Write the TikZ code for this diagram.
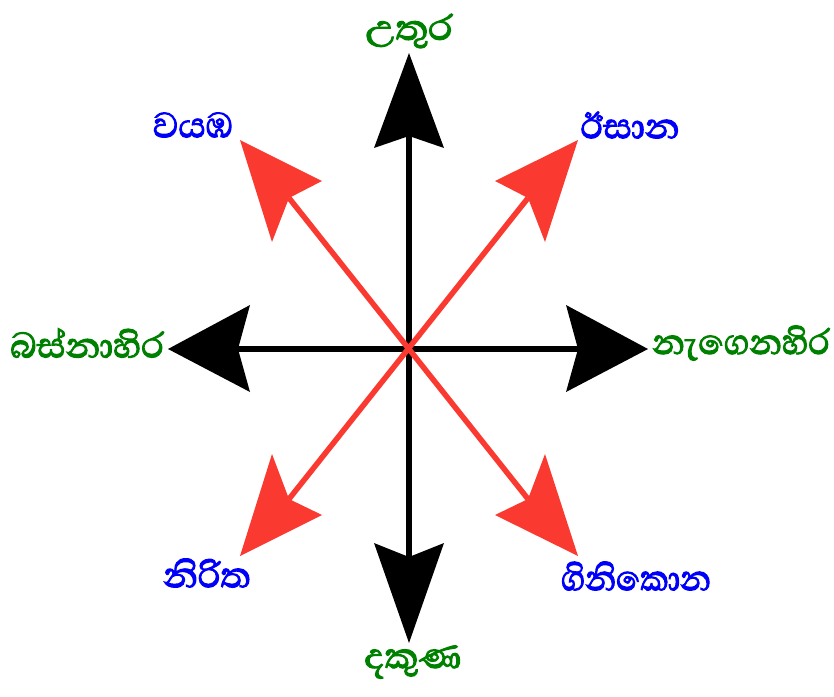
\documentclass[tikz,border=0pt]{standalone}
\usepackage{fontspec}
\newfontfamily\sinfont[Script=Sinhala, FakeBold=2.5]{Abhaya Libre}
\definecolor{arrred}{RGB}{250,58,48}
\definecolor{lblgreen}{RGB}{0,128,0}
\definecolor{lblblue}{RGB}{0,0,250}
\tikzset{
  mainshaft/.style={draw=black, line width=5.5pt},
  mainhead/.style={fill=black, draw=none},
  diagshaft/.style={draw=arrred, line width=5.5pt},
  diaghead/.style={fill=arrred, draw=none},
  lbl/.style={inner sep=0pt, transform shape, font=\sinfont\fontsize{45}{50}\selectfont},
  glbl/.style={lbl, text=lblgreen},
  blbl/.style={lbl, text=lblblue}
}
\begin{document}
\begin{tikzpicture}[x=1pt,y=-1pt]
\useasboundingbox (0,0) rectangle (834,696);
\coordinate (C) at (409,349);
% black arrows
\coordinate (Ntip) at (409,53);  \coordinate (Nn) at (409,136);
\coordinate (Stip) at (409,643); \coordinate (Sn) at (409,557);
\coordinate (Wtip) at (168,349); \coordinate (Wn) at (238,349);
\coordinate (Etip) at (648,349); \coordinate (En) at (578,349);
\draw[mainshaft] (Nn) -- (Sn);
\draw[mainshaft] (Wn) -- (En);
\fill[mainhead] (Ntip) -- (444,148) -- (Nn) -- (374,148) -- cycle;
\fill[mainhead] (Stip) -- (444,543) -- (Sn) -- (374,543) -- cycle;
\fill[mainhead] (Wtip) -- (250,305) -- (Wn) -- (250,392) -- cycle;
\fill[mainhead] (Etip) -- (566,305) -- (En) -- (566,392) -- cycle;
% red arrows
\coordinate (NEtip) at (578,140); \coordinate (NEn) at (528,198);
\coordinate (NWtip) at (240,140); \coordinate (NWn) at (289,198);
\coordinate (SWtip) at (240,556); \coordinate (SWn) at (289,499);
\coordinate (SEtip) at (578,556); \coordinate (SEn) at (528,499);
\draw[diagshaft] (NEn) -- (SWn);
\draw[diagshaft] (NWn) -- (SEn);
\fill[diaghead] (NEtip) -- (495,181) -- (NEn) -- (545,242) -- cycle;
\fill[diaghead] (NWtip) -- (322,181) -- (NWn) -- (272,242) -- cycle;
\fill[diaghead] (SWtip) -- (272,454) -- (SWn) -- (322,515) -- cycle;
\fill[diaghead] (SEtip) -- (545,454) -- (SEn) -- (495,515) -- cycle;
% labels
\node[glbl, xscale=1.08] (n) at (409,31) {උතුර};
\node[glbl, xscale=1.05] (s) at (413,662) {දකුණ};
\node[glbl] (w) at (87,343) {බස්නාහිර};
\node[glbl, xscale=0.94] (e) at (741,343) {නැගෙනහිර};
\node[blbl] (nw) at (193,125) {වයඹ};
\node[blbl] (ne) at (630,125) {ඊසාන};
\node[blbl] (sw) at (207,573) {නිරිත};
\node[blbl, xscale=0.89] (se) at (636,576) {ගිනිකොන};
\end{tikzpicture}
\end{document}
